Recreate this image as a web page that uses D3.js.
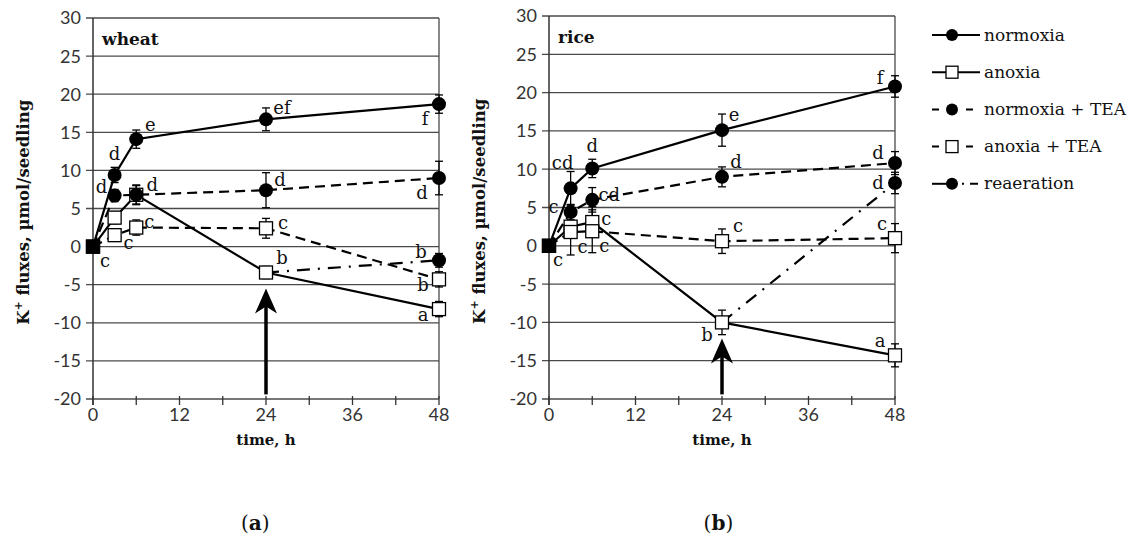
<!doctype html>
<html>
  <head>
    <meta charset="utf-8">
    <script src="https://cdn.jsdelivr.net/npm/d3@7/dist/d3.min.js"></script>
    <style>
      body { margin: 0; background: #fff; }
      svg { display: block; }
      .tick-lbl { font-family: Lato, "Open Sans", sans-serif; font-size: 18px; fill: #333; }
      .serif { font-family: "DejaVu Serif", serif; fill: #111; }
    </style>
  </head>
  <body>
    <script>
      // time points (h)
      var times = [0, 3, 6, 24, 48];
      var reaerTimes = [24, 48];
      var yTicks = [-20, -15, -10, -5, 0, 5, 10, 15, 20, 25, 30];
      var xTicks = [0, 12, 24, 36, 48];
      var xMinorTicks = [0, 6, 12, 18, 24, 30, 36, 42, 48];

      // wheat
      var wheatNormoxia = [0, 9.4, 14.1, 16.7, 18.7];
      var wheatNormoxiaErr = [0, 1.0, 1.2, 1.5, 1.2];
      var wheatAnoxia = [0, 3.8, 6.8, -3.4, -8.2];
      var wheatAnoxiaErr = [0, 0.8, 1.2, 0.8, 1.0];
      var wheatNormTEA = [0, 6.7, 6.8, 7.4, 9.0];
      var wheatNormTEAErr = [0, 0.8, 1.3, 2.3, 2.2];
      var wheatAnoxTEA = [0, 1.5, 2.5, 2.4, -4.3];
      var wheatAnoxTEAErr = [0, 0.8, 1.0, 1.3, 1.0];
      var wheatReaer = [-3.4, -1.8];
      var wheatReaerErr = [0, 0.9];

      var wheatNormoxiaSig = ["c", "d", "e", "ef", "f"];
      var wheatAnoxiaSig = ["", "", "", "b", "a"];
      var wheatNormTEASig = ["", "d", "d", "d", "d"];
      var wheatAnoxTEASig = ["", "c", "c", "c", "b"];
      var wheatReaerSig = ["", "b"];

      // rice
      var riceNormoxia = [0, 7.5, 10.1, 15.1, 20.8];
      var riceNormoxiaErr = [0, 2.2, 1.2, 2.1, 1.4];
      var riceAnoxia = [0, 2.5, 3.1, -10.0, -14.3];
      var riceAnoxiaErr = [0, 1.5, 2.0, 1.6, 1.5];
      var riceNormTEA = [0, 4.4, 6.0, 9.0, 10.8];
      var riceNormTEAErr = [0, 1.0, 1.6, 1.3, 1.5];
      var riceAnoxTEA = [0, 1.8, 1.9, 0.6, 1.0];
      var riceAnoxTEAErr = [0, 3.0, 2.8, 1.6, 1.9];
      var riceReaer = [-10.0, 8.2];
      var riceReaerErr = [0, 1.4];

      var riceNormoxiaSig = ["c", "cd", "d", "e", "f"];
      var riceAnoxiaSig = ["", "", "c", "b", "a"];
      var riceNormTEASig = ["", "c", "cd", "d", "d"];
      var riceAnoxTEASig = ["", "c", "c", "c", "c"];
      var riceReaerSig = ["", "d"];

      var legendNames = ["normoxia", "anoxia", "normoxia + TEA", "anoxia + TEA", "reaeration"];

      var W = 1131, H = 544;
      var svg = d3.select("body").append("svg").attr("width", W).attr("height", H);

      var dashes = { solid: null, dash: "10,6", dashdot: "13,8,2,8" };

      function drawPanel(p) {
        var x = d3.scaleLinear().domain([0, 48]).range([p.left, p.right]);
        var y = d3.scaleLinear().domain([-20, 30]).range([p.bottom, p.top]);
        var g = svg.append("g");

        // gridlines (+ y ticks)
        g.selectAll(".grid").data(yTicks).enter().append("line")
          .attr("x1", p.left - 7).attr("x2", p.right)
          .attr("y1", function(d){ return y(d); }).attr("y2", function(d){ return y(d); })
          .attr("stroke", "#4a4a4a").attr("stroke-width", 1.3);
        g.selectAll(".ylbl").data(yTicks).enter().append("text")
          .attr("class", "tick-lbl")
          .attr("x", p.left - 12).attr("y", function(d){ return y(d); })
          .attr("dy", "0.36em").attr("text-anchor", "end")
          .text(function(d){ return d; });
        // axis and right border
        g.append("line").attr("x1", p.left).attr("x2", p.left).attr("y1", p.top).attr("y2", p.bottom + 6)
          .attr("stroke", "#333").attr("stroke-width", 1.5);
        g.append("line").attr("x1", p.right).attr("x2", p.right).attr("y1", p.top).attr("y2", p.bottom)
          .attr("stroke", "#4a4a4a").attr("stroke-width", 1.3);
        g.selectAll(".xt").data(xMinorTicks).enter().append("line")
          .attr("x1", function(d){ return x(d); }).attr("x2", function(d){ return x(d); })
          .attr("y1", p.bottom - 3).attr("y2", p.bottom + 6)
          .attr("stroke", "#333").attr("stroke-width", 1.3);
        g.selectAll(".xlbl").data(xTicks).enter().append("text")
          .attr("class", "tick-lbl")
          .attr("x", function(d){ return x(d); }).attr("y", p.bottom + 22)
          .attr("text-anchor", "middle")
          .text(function(d){ return d; });

        // titles
        g.append("text").attr("class", "serif")
          .attr("x", x(24)).attr("y", p.bottom + 46).attr("text-anchor", "middle")
          .attr("font-size", 15).attr("font-weight", "bold").text("time, h");
        var yt = g.append("text").attr("class", "serif")
          .attr("transform", "translate(" + (p.left - 64) + "," + y(4.5) + ") rotate(-90)")
          .attr("text-anchor", "middle").attr("font-size", 16.5).attr("font-weight", "bold");
        yt.append("tspan").text("K");
        yt.append("tspan").attr("dy", -7).attr("font-size", 11).text("+");
        yt.append("tspan").attr("dy", 7).text(" fluxes, µmol/seedling");
        g.append("text").attr("class", "serif")
          .attr("x", p.left + 9).attr("y", y(26.5)).attr("font-size", 17).attr("font-weight", "bold")
          .text(p.name);
        var cap = g.append("text").attr("class", "serif")
          .attr("x", x(p.capT)).attr("y", 530).attr("text-anchor", "middle").attr("font-size", 20);
        cap.append("tspan").text("(");
        cap.append("tspan").attr("font-weight", "bold").text(p.cap);
        cap.append("tspan").text(")");

        // arrow at start of reaeration
        var ax = x(reaerTimes[0]);
        var tip = y(p.series[1].values[3]) + 16;
        g.append("line").attr("x1", ax).attr("x2", ax).attr("y1", y(-19.4)).attr("y2", tip + 10)
          .attr("stroke", "#000").attr("stroke-width", 3.5);
        g.append("path")
          .attr("d", "M" + ax + "," + tip + " L" + (ax - 11) + "," + (tip + 25) +
                " L" + ax + "," + (tip + 18) + " L" + (ax + 11) + "," + (tip + 25) + " Z")
          .attr("fill", "#000");

        var line = d3.line().x(function(d){ return x(d[0]); }).y(function(d){ return y(d[1]); });

        p.series.forEach(function(s) {
          var pts = s.t.map(function(t, i){ return [t, s.values[i], s.err[i], s.sig[i], i]; });
          g.append("path").datum(pts).attr("d", line)
            .attr("fill", "none").attr("stroke", "#000").attr("stroke-width", 2.2)
            .attr("stroke-dasharray", dashes[s.dash]);
          s.pts = pts;
        });
        // error bars
        p.series.forEach(function(s) {
          var eb = g.selectAll(null).data(s.pts.filter(function(d){ return d[2] > 0; })).enter().append("g");
          eb.append("line")
            .attr("x1", function(d){ return x(d[0]); }).attr("x2", function(d){ return x(d[0]); })
            .attr("y1", function(d){ return y(d[1] - d[2]); }).attr("y2", function(d){ return y(d[1] + d[2]); })
            .attr("stroke", "#000").attr("stroke-width", 1.3);
          [-1, 1].forEach(function(sg) {
            eb.append("line")
              .attr("x1", function(d){ return x(d[0]) - 4; }).attr("x2", function(d){ return x(d[0]) + 4; })
              .attr("y1", function(d){ return y(d[1] + sg * d[2]); }).attr("y2", function(d){ return y(d[1] + sg * d[2]); })
              .attr("stroke", "#000").attr("stroke-width", 1.3);
          });
        });
        // markers: squares first, circles on top
        p.series.filter(function(s){ return s.marker === "square"; }).forEach(function(s) {
          g.selectAll(null).data(s.pts).enter().append("rect")
            .attr("x", function(d){ return x(d[0]) - 6.5; }).attr("y", function(d){ return y(d[1]) - 6.5; })
            .attr("width", 13).attr("height", 13)
            .attr("fill", function(d){ return d[4] === 0 ? "#000" : "#fff"; })
            .attr("stroke", "#000").attr("stroke-width", 1.3);
        });
        p.series.filter(function(s){ return s.marker === "circle"; }).forEach(function(s) {
          g.selectAll(null).data(s.pts.filter(function(d){ return d[0] > 0 && !(s.skipFirst && d[4] === 0); }))
            .enter().append("circle")
            .attr("cx", function(d){ return x(d[0]); }).attr("cy", function(d){ return y(d[1]); })
            .attr("r", 7).attr("fill", "#000");
        });
        // significance letters
        p.series.forEach(function(s, si) {
          var off = p.sigPos[si];
          g.selectAll(null).data(s.pts.filter(function(d){ return d[3] !== ""; })).enter().append("text")
            .attr("class", "serif").attr("font-size", 18).attr("text-anchor", "middle")
            .attr("x", function(d){ return x(d[0]) + off[d[4]][0]; })
            .attr("y", function(d){ return y(d[1]) + off[d[4]][1]; })
            .attr("dy", "0.33em")
            .text(function(d){ return d[3]; });
        });
      }

      drawPanel({
        name: "wheat", cap: "a", capT: 22.5,
        left: 93, right: 439, top: 18, bottom: 399,
        series: [
          { t: times, values: wheatNormoxia, err: wheatNormoxiaErr, sig: wheatNormoxiaSig, marker: "circle", dash: "solid" },
          { t: times, values: wheatAnoxia, err: wheatAnoxiaErr, sig: wheatAnoxiaSig, marker: "square", dash: "solid" },
          { t: times, values: wheatNormTEA, err: wheatNormTEAErr, sig: wheatNormTEASig, marker: "circle", dash: "dash" },
          { t: times, values: wheatAnoxTEA, err: wheatAnoxTEAErr, sig: wheatAnoxTEASig, marker: "square", dash: "dash" },
          { t: reaerTimes, values: wheatReaer, err: wheatReaerErr, sig: wheatReaerSig, marker: "circle", dash: "dashdot", skipFirst: true }
        ],
        sigPos: [
          [[12, 14], [0, -21], [14, -14], [16, -11], [-14, 15]],
          [[0, 0], [0, 0], [0, 0], [16, -14], [-16, 6]],
          [[0, 0], [-13, -8], [16, -10], [14, -10], [-17, 15]],
          [[0, 0], [14, 8], [13, -5], [17, -5], [-16, 6]],
          [[0, 0], [-18, -8]]
        ]
      });

      drawPanel({
        name: "rice", cap: "b", capT: 23.5,
        left: 549, right: 895, top: 16, bottom: 399,
        series: [
          { t: times, values: riceNormoxia, err: riceNormoxiaErr, sig: riceNormoxiaSig, marker: "circle", dash: "solid" },
          { t: times, values: riceAnoxia, err: riceAnoxiaErr, sig: riceAnoxiaSig, marker: "square", dash: "solid" },
          { t: times, values: riceNormTEA, err: riceNormTEAErr, sig: riceNormTEASig, marker: "circle", dash: "dash" },
          { t: times, values: riceAnoxTEA, err: riceAnoxTEAErr, sig: riceAnoxTEASig, marker: "square", dash: "dash" },
          { t: reaerTimes, values: riceReaer, err: riceReaerErr, sig: riceReaerSig, marker: "circle", dash: "dashdot", skipFirst: true }
        ],
        sigPos: [
          [[9, 14], [-8, -25], [0, -22], [12, -15], [-15, -8]],
          [[0, 0], [0, 0], [14, -3], [-15, 13], [-15, -14]],
          [[0, 0], [-17, -5], [17, -5], [14, -15], [-17, -10]],
          [[0, 0], [12, 15], [12, 15], [16, -15], [-13, -14]],
          [[0, 0], [-17, 0]]
        ]
      });

      // legend
      var legMarkers = ["circle", "square", "circle", "square", "circle"];
      var leg = svg.append("g").selectAll("g").data(legendNames).enter().append("g")
        .attr("transform", function(d, i){ return "translate(932," + (35 + i * 37.2) + ")"; });
      leg.each(function(d, i) {
        var gg = d3.select(this);
        if (i < 2) {
          gg.append("line").attr("x1", 0).attr("x2", 48).attr("stroke", "#000").attr("stroke-width", 2);
        } else if (i < 4) {
          gg.append("line").attr("x1", 0).attr("x2", 48).attr("stroke", "#000").attr("stroke-width", 2)
            .attr("stroke-dasharray", "7,10");
        } else {
          gg.append("line").attr("x1", 0).attr("x2", 20).attr("stroke", "#000").attr("stroke-width", 2);
          gg.append("line").attr("x1", 20).attr("x2", 48).attr("stroke", "#000").attr("stroke-width", 2)
            .attr("stroke-dasharray", "0,10,2,6,8,10");
        }
        if (legMarkers[i] === "circle") {
          gg.append("circle").attr("cx", 20).attr("r", 6).attr("fill", "#000");
        } else {
          gg.append("rect").attr("x", 14).attr("y", -6).attr("width", 12).attr("height", 12)
            .attr("fill", "#fff").attr("stroke", "#000").attr("stroke-width", 1.3);
        }
        gg.append("text").attr("class", "serif").attr("x", 52).attr("dy", "0.33em")
          .attr("font-size", 17).text(d);
      });
    </script>
  </body>
</html>
